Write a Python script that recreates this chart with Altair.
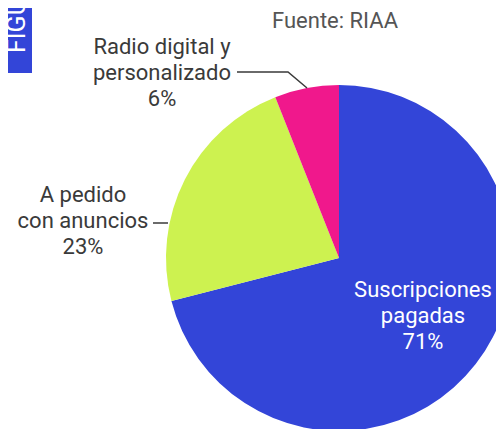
import altair as alt
import pandas as pd

# data
categories = ["Suscripciones\npagadas", "A pedido\ncon anuncios", "Radio digital y\npersonalizado"]
shares = [71, 23, 6]
colors = ["#3345D8", "#CDF250", "#F0188C"]
source = "Fuente: RIAA"
fig_tag = "FIGURA 1"

# layout (chart pixel coords; page adds 8px margin)
OFF = 8
cx, cy, R = 339 - OFF, 258 - OFF, 173
label_x = [423 - OFF, 83 - OFF, 162 - OFF]
label_y = [297 - OFF, 202 - OFF, 54 - OFF]
label_colors = ["white", "#3a3a3a", "#3a3a3a"]
FONT = "Roboto"
FS = 22

df = pd.DataFrame({
    "cat": categories,
    "share": shares,
    "order": list(range(len(categories))),
    "label": [f"{c}\n{s}%" for c, s in zip(categories, shares)],
    "lx": label_x,
    "ly": label_y,
    "lc": label_colors,
})

W, H = 488, 421

pie = alt.Chart(df).mark_arc(stroke=None).encode(
    theta=alt.Theta("share:Q", stack=True),
    order=alt.Order("order:Q"),
    color=alt.Color("cat:N", scale=alt.Scale(domain=categories, range=colors), legend=None),
    x=alt.value(cx), y=alt.value(cy), radius=alt.value(R),
)

labels = alt.Chart(df).mark_text(
    font=FONT, fontSize=FS, align="center", baseline="alphabetic", lineBreak="\n", lineHeight=26
).encode(
    x=alt.X("lx:Q", scale=None), y=alt.Y("ly:Q", scale=None),
    text="label:N", color=alt.Color("lc:N", scale=None),
)

# leader lines
lead = pd.DataFrame({
    "x": [237 - OFF, 288 - OFF, 307 - OFF, 153 - OFF, 168 - OFF],
    "y": [72 - OFF, 72 - OFF, 88 - OFF, 223 - OFF, 223 - OFF],
    "g": ["a", "a", "a", "b", "b"],
    "o": [0, 1, 2, 0, 1],
})
leaders = alt.Chart(lead).mark_line(color="#3a3a3a", strokeWidth=1.5).encode(
    x=alt.X("x:Q", scale=None), y=alt.Y("y:Q", scale=None), detail="g:N", order="o:Q"
)

src = alt.Chart(pd.DataFrame({"t": [source]})).mark_text(
    font=FONT, fontSize=FS, color="#555555", align="center", baseline="alphabetic"
).encode(x=alt.value(335 - OFF), y=alt.value(28 - OFF), text="t:N")

box = alt.Chart(pd.DataFrame({"a": [0]})).mark_rect(color="#3345D8").encode(
    x=alt.value(0), x2=alt.value(32 - OFF), y=alt.value(0), y2=alt.value(73 - OFF)
)
tag = alt.Chart(pd.DataFrame({"t": [fig_tag]})).mark_text(
    font=FONT, fontSize=25, color="white", align="left", baseline="alphabetic", angle=270
).encode(x=alt.value(25 - OFF), y=alt.value(53 - OFF), text="t:N")

chart = alt.layer(pie, leaders, labels, src, box, tag).properties(
    width=W, height=H, autosize=alt.AutoSizeParams(type="none"), padding=0
).configure_view(stroke=None)

chart.save("out.html", embed_options={"renderer": "svg", "actions": False})
